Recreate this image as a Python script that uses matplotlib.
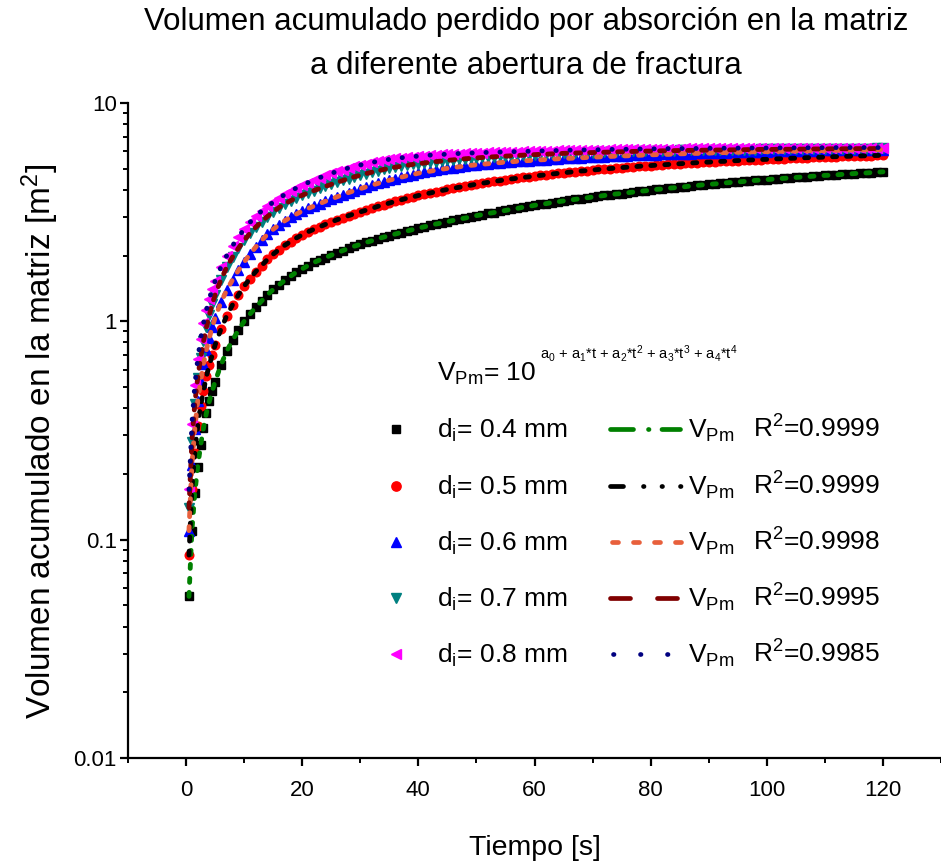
import numpy as np
import matplotlib
matplotlib.use("Agg")
import matplotlib.pyplot as plt
from matplotlib.lines import Line2D
from matplotlib.ticker import FixedLocator, FixedFormatter, LogLocator, MultipleLocator, NullFormatter

plt.rcParams['font.family'] = ['Liberation Sans', 'DejaVu Sans']
plt.rcParams['mathtext.fontset'] = 'custom'
plt.rcParams['mathtext.rm'] = 'Liberation Sans'
plt.rcParams['mathtext.it'] = 'Liberation Sans:italic'
plt.rcParams['mathtext.default'] = 'regular'
plt.rcParams['lines.scale_dashes'] = False

# ---- data -------------------------------------------------------------
time_s = np.concatenate([np.arange(0.5, 5.01, 0.5), np.arange(6, 121)])

vol_04 = [0.055, 0.11, 0.163, 0.216, 0.27, 0.325, 0.38, 0.43, 0.48, 0.53,
          0.63, 0.73, 0.82, 0.91, 1.00, 1.08, 1.16, 1.24, 1.32, 1.40,
          1.47, 1.54, 1.61, 1.68, 1.74, 1.80, 1.86, 1.91, 1.96, 2.01,
          2.06, 2.11, 2.16, 2.21, 2.25,
          2.30, 2.34, 2.39, 2.43, 2.47, 2.51, 2.55, 2.59, 2.63, 2.67,
          2.71, 2.75, 2.79, 2.82, 2.86, 2.90, 2.94, 2.97, 3.01, 3.05,
          3.08, 3.12, 3.15, 3.19, 3.22, 3.26, 3.29, 3.33, 3.36, 3.40,
          3.43, 3.46, 3.50, 3.53, 3.56, 3.59, 3.62, 3.65, 3.68, 3.71,
          3.74, 3.77, 3.80, 3.83, 3.85, 3.88, 3.91, 3.94, 3.96, 3.99,
          4.02, 4.04, 4.07, 4.09, 4.12, 4.14, 4.17, 4.19, 4.22, 4.24,
          4.26, 4.28, 4.31, 4.33, 4.35, 4.37, 4.40, 4.42, 4.44, 4.46,
          4.48, 4.50, 4.52, 4.54, 4.56, 4.58, 4.60, 4.62, 4.64, 4.66,
          4.67, 4.69, 4.71, 4.73, 4.75, 4.77, 4.78, 4.80, 4.82, 4.84]

vol_05 = [0.085, 0.17, 0.25, 0.33, 0.41, 0.48, 0.56, 0.63, 0.70, 0.78,
          0.92, 1.06, 1.19, 1.32, 1.45, 1.57, 1.69, 1.80, 1.92, 2.03,
          2.13, 2.23, 2.32, 2.41, 2.49, 2.57, 2.64, 2.71, 2.78, 2.85,
          2.92, 2.98, 3.05, 3.11, 3.17,
          3.23, 3.29, 3.36, 3.42, 3.48, 3.54, 3.60, 3.66, 3.71, 3.77,
          3.82, 3.87, 3.92, 3.97, 4.02, 4.07, 4.11, 4.16, 4.20, 4.25,
          4.29, 4.33, 4.37, 4.41, 4.45, 4.49, 4.52, 4.56, 4.59, 4.63,
          4.66, 4.69, 4.73, 4.76, 4.79, 4.82, 4.85, 4.88, 4.90, 4.93,
          4.96, 4.98, 5.01, 5.03, 5.06, 5.08, 5.10, 5.13, 5.15, 5.17,
          5.19, 5.21, 5.23, 5.25, 5.27, 5.29, 5.31, 5.33, 5.35, 5.36,
          5.38, 5.40, 5.41, 5.43, 5.45, 5.46, 5.48, 5.49, 5.51, 5.52,
          5.54, 5.55, 5.56, 5.58, 5.59, 5.60, 5.62, 5.63, 5.64, 5.65,
          5.67, 5.68, 5.69, 5.70, 5.71, 5.72, 5.73, 5.74, 5.75, 5.76]

vol_06 = [0.11, 0.22, 0.32, 0.43, 0.53, 0.64, 0.74, 0.84, 0.94, 1.04,
          1.22, 1.39, 1.55, 1.71, 1.87, 2.03, 2.19, 2.35, 2.50, 2.64,
          2.77, 2.89, 3.00, 3.10, 3.20, 3.29, 3.37, 3.46, 3.55, 3.63,
          3.72, 3.80, 3.89, 3.97, 4.05,
          4.13, 4.21, 4.28, 4.36, 4.43, 4.50, 4.57, 4.64, 4.70, 4.77,
          4.82, 4.87, 4.92, 4.97, 5.02, 5.06, 5.10, 5.14, 5.18, 5.21,
          5.24, 5.27, 5.30, 5.33, 5.36, 5.38, 5.41, 5.43, 5.45, 5.47,
          5.49, 5.51, 5.53, 5.55, 5.57, 5.58, 5.60, 5.61, 5.63, 5.65,
          5.66, 5.68, 5.69, 5.71, 5.72, 5.73, 5.75, 5.76, 5.78, 5.79,
          5.80, 5.81, 5.82, 5.83, 5.85, 5.86, 5.87, 5.88, 5.89, 5.90,
          5.91, 5.92, 5.93, 5.94, 5.95, 5.96, 5.97, 5.98, 5.98, 5.99,
          6.00, 6.01, 6.01, 6.02, 6.03, 6.04, 6.04, 6.05, 6.05, 6.06,
          6.07, 6.08, 6.08, 6.09, 6.09, 6.10, 6.10, 6.11, 6.11, 6.12]

vol_07 = [0.14, 0.28, 0.42, 0.55, 0.68, 0.81, 0.94, 1.07, 1.20, 1.32,
          1.55, 1.77, 1.97, 2.16, 2.35, 2.53, 2.70, 2.86, 3.02, 3.17,
          3.32, 3.45, 3.57, 3.68, 3.78, 3.88, 3.97, 4.06, 4.15, 4.24,
          4.33, 4.42, 4.51, 4.59, 4.67,
          4.75, 4.82, 4.89, 4.96, 5.02, 5.08, 5.13, 5.18, 5.23, 5.27,
          5.31, 5.35, 5.39, 5.42, 5.46, 5.49, 5.52, 5.55, 5.58, 5.60,
          5.63, 5.65, 5.67, 5.69, 5.71, 5.73, 5.75, 5.77, 5.79, 5.80,
          5.82, 5.83, 5.85, 5.86, 5.88, 5.89, 5.90, 5.91, 5.92, 5.93,
          5.94, 5.95, 5.96, 5.97, 5.98, 5.99, 6.00, 6.01, 6.02, 6.02,
          6.03, 6.04, 6.04, 6.05, 6.06, 6.06, 6.07, 6.07, 6.08, 6.08,
          6.09, 6.09, 6.10, 6.10, 6.11, 6.11, 6.12, 6.12, 6.13, 6.13,
          6.13, 6.14, 6.14, 6.14, 6.15, 6.15, 6.15, 6.16, 6.16, 6.16,
          6.17, 6.17, 6.17, 6.17, 6.18, 6.18, 6.18, 6.18, 6.19, 6.19]

vol_08 = [0.17, 0.34, 0.51, 0.67, 0.83, 0.98, 1.13, 1.27, 1.40, 1.53,
          1.77, 2.00, 2.22, 2.44, 2.64, 2.84, 3.03, 3.20, 3.36, 3.51,
          3.66, 3.81, 3.95, 4.08, 4.20, 4.32, 4.44, 4.55, 4.66, 4.76,
          4.86, 4.95, 5.04, 5.12, 5.20,
          5.27, 5.34, 5.41, 5.47, 5.52, 5.57, 5.61, 5.65, 5.68, 5.71,
          5.74, 5.77, 5.79, 5.81, 5.83, 5.85, 5.87, 5.88, 5.90, 5.91,
          5.93, 5.94, 5.95, 5.96, 5.97, 5.98, 5.99, 6.00, 6.01, 6.02,
          6.03, 6.04, 6.05, 6.06, 6.07, 6.08, 6.08, 6.09, 6.10, 6.11,
          6.11, 6.12, 6.13, 6.13, 6.14, 6.14, 6.15, 6.15, 6.16, 6.16,
          6.17, 6.17, 6.18, 6.18, 6.18, 6.19, 6.19, 6.19, 6.20, 6.20,
          6.20, 6.21, 6.21, 6.21, 6.21, 6.22, 6.22, 6.22, 6.22, 6.22,
          6.23, 6.23, 6.23, 6.23, 6.23, 6.24, 6.24, 6.24, 6.24, 6.24,
          6.24, 6.25, 6.25, 6.25, 6.25, 6.25, 6.25, 6.25, 6.25, 6.25]

apertures = ['0.4', '0.5', '0.6', '0.7', '0.8']
r_squared = ['0.9999', '0.9999', '0.9998', '0.9995', '0.9985']
series = [vol_04, vol_05, vol_06, vol_07, vol_08]

y_ticks = [0.01, 0.1, 1, 10]
y_tick_labels = ['0.01', '0.1', '1', '10']
x_ticks = [0, 20, 40, 60, 80, 100, 120]

# ---- styles -------------------------------------------------------------
marker_styles = [('s', 'black', 5.5), ('o', '#FF0000', 6.2), ('^', '#0000FF', 6.8),
                 ('v', '#008080', 6.8), ('<', '#FF00FF', 6.8)]
fit_colors = ['#008000', '#000000', '#E8603C', '#800000', '#000080']
PX = 0.72  # points per pixel at 100 dpi
fit_dashes_plot = [(4 * PX, 10 * PX), (4 * PX, 10 * PX), (4 * PX, 10 * PX),
                   (5 * PX, 9 * PX), (0.3 * PX, 13.7 * PX)]
fit_dashes_key = [(23 * PX, 15 * PX, 0.5 * PX, 13 * PX),
                  (13 * PX, 20 * PX, 0.5 * PX, 18 * PX, 0.5 * PX, 18 * PX, 0.5 * PX, 40 * PX),
                  (6 * PX, 15 * PX),
                  (20 * PX, 27 * PX),
                  (0.5 * PX, 26.5 * PX)]
key_spans = [(610, 680), (610, 681), (612, 681), (610, 677), (613, 668)]

W, H = 941, 863
fig = plt.figure(figsize=(W / 100, H / 100), dpi=100)


def fx(x):
    return x / W


def fy(y):
    return 1 - y / H


ax = fig.add_axes([fx(128), fy(758), (W - 128) / W, (758 - 103) / H])
ax.set_yscale('log')
ax.set_xlim(-10, 130)
ax.set_ylim(0.01, 10)

# measured points
for vol, (mk, col, ms) in zip(series, marker_styles):
    ax.plot(time_s, vol, ls='none', marker=mk, ms=ms, color=col, mec=col, zorder=2)

# fitted curves
for vol, col, dsh in zip(series, fit_colors, fit_dashes_plot):
    ax.plot(time_s, vol, color=col, lw=3.5, dashes=dsh,
            dash_capstyle='round', zorder=3)

# axes styling
for side in ('top', 'right'):
    ax.spines[side].set_visible(False)
for side in ('left', 'bottom'):
    ax.spines[side].set_linewidth(1.6)

ax.yaxis.set_major_locator(FixedLocator(y_ticks))
ax.yaxis.set_major_formatter(FixedFormatter(y_tick_labels))
ax.yaxis.set_minor_locator(LogLocator(base=10, subs=np.arange(2, 10)))
ax.yaxis.set_minor_formatter(NullFormatter())
ax.xaxis.set_major_locator(FixedLocator(x_ticks))
ax.xaxis.set_minor_locator(MultipleLocator(10))
ax.tick_params(axis='both', which='major', direction='out', length=6, width=1.6,
               labelsize=16)
ax.tick_params(axis='both', which='minor', direction='out', length=3.6, width=1.4)
ax.tick_params(axis='y', which='major', pad=2)
ax.tick_params(axis='x', which='major', pad=10)

# titles and axis labels
fig.text(fx(526), fy(22), 'Volumen acumulado perdido por absorción en la matriz',
         ha='center', va='center', fontsize=22.5)
fig.text(fx(526), fy(66), 'a diferente abertura de fractura',
         ha='center', va='center', fontsize=22.5)
fig.text(fx(535), fy(848), 'Tiempo [s]', ha='center', va='center', fontsize=20.5)
fig.text(fx(40), fy(441), r'Volumen acumulado en la matriz [m$^{2}$]',
         ha='center', va='center', rotation=90, fontsize=24)

# key
fig.text(fx(437), fy(381), r'V$_{Pm}$= 10', ha='left', va='baseline', fontsize=19)
fig.text(fx(540), fy(359), r'a$_0$ + a$_1$*t + a$_2$*t$^2$ + a$_3$*t$^3$ + a$_4$*t$^4$',
         ha='left', va='baseline', fontsize=10.5)

rows_y = [429, 486, 542, 598, 654]
for i, y in enumerate(rows_y):
    mk, col, ms = marker_styles[i]
    fig.add_artist(Line2D([fx(396)], [fy(y)], marker=mk, ms=ms + 0.5, color=col,
                          mec=col, ls='none', transform=fig.transFigure))
    fig.text(fx(437), fy(y + 9), r'd$_i$= ' + apertures[i] + ' mm',
             ha='left', va='baseline', fontsize=19)
    x0, x1 = key_spans[i]
    fig.add_artist(Line2D([fx(x0), fx(x1)], [fy(y), fy(y)], color=fit_colors[i], lw=3.4,
                          dashes=fit_dashes_key[i], dash_capstyle='round',
                          transform=fig.transFigure))
    fig.text(fx(688), fy(y + 9), r'V$_{Pm}$', ha='left', va='baseline', fontsize=19)
    fig.text(fx(753), fy(y + 9), r'R$^2$=' + r_squared[i], ha='left', va='baseline',
             fontsize=19)

fig.savefig('out.png', dpi=100)
